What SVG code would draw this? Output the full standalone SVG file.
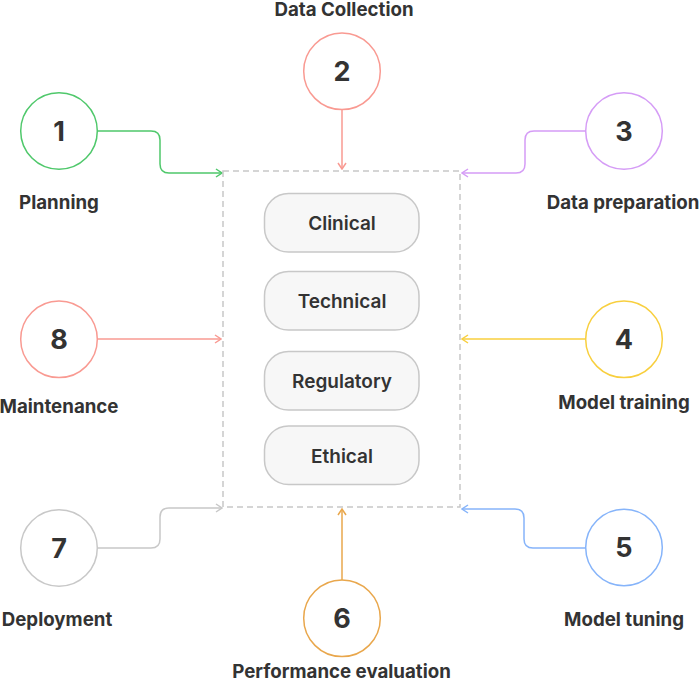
<svg xmlns="http://www.w3.org/2000/svg" width="700" height="681" viewBox="0 0 700 681">
<style>
.num{font-family:Inter,"Liberation Sans",sans-serif;font-weight:700;font-size:27px;fill:#333;text-anchor:middle}
.lbl{font-family:Inter,"Liberation Sans",sans-serif;font-weight:700;font-size:18.7px;fill:#333;text-anchor:middle}
.pt{font-family:Inter,"Liberation Sans",sans-serif;font-weight:600;font-size:19px;fill:#333;text-anchor:middle}
.pill{fill:#f7f7f7;stroke:#c8c8c8;stroke-width:1.5}
.c{fill:#fff;stroke-width:1.5}
.ln{fill:none;stroke-width:1.5}
</style>
<defs>
<marker id="aG" viewBox="0 0 10 10" refX="9" refY="5" markerWidth="10" markerHeight="10" markerUnits="userSpaceOnUse" orient="auto"><path d="M3 1 L9 5 L3 9" fill="none" stroke="#4fc86b" stroke-width="1.5"/></marker>
<marker id="aR" viewBox="0 0 10 10" refX="9" refY="5" markerWidth="10" markerHeight="10" markerUnits="userSpaceOnUse" orient="auto"><path d="M3 1 L9 5 L3 9" fill="none" stroke="#f99a92" stroke-width="1.5"/></marker>
<marker id="aP" viewBox="0 0 10 10" refX="9" refY="5" markerWidth="10" markerHeight="10" markerUnits="userSpaceOnUse" orient="auto"><path d="M3 1 L9 5 L3 9" fill="none" stroke="#d59cf6" stroke-width="1.5"/></marker>
<marker id="aY" viewBox="0 0 10 10" refX="9" refY="5" markerWidth="10" markerHeight="10" markerUnits="userSpaceOnUse" orient="auto"><path d="M3 1 L9 5 L3 9" fill="none" stroke="#f8cf3e" stroke-width="1.5"/></marker>
<marker id="aB" viewBox="0 0 10 10" refX="9" refY="5" markerWidth="10" markerHeight="10" markerUnits="userSpaceOnUse" orient="auto"><path d="M3 1 L9 5 L3 9" fill="none" stroke="#86b4fa" stroke-width="1.5"/></marker>
<marker id="aO" viewBox="0 0 10 10" refX="9" refY="5" markerWidth="10" markerHeight="10" markerUnits="userSpaceOnUse" orient="auto"><path d="M3 1 L9 5 L3 9" fill="none" stroke="#e9a74c" stroke-width="1.5"/></marker>
<marker id="aK" viewBox="0 0 10 10" refX="9" refY="5" markerWidth="10" markerHeight="10" markerUnits="userSpaceOnUse" orient="auto"><path d="M3 1 L9 5 L3 9" fill="none" stroke="#c8c8c8" stroke-width="1.5"/></marker>
</defs>
<rect width="700" height="681" fill="#fff"/>
<g id="connectors">
<path class="ln" stroke="#4fc86b" marker-end="url(#aG)" d="M98 131 H151 Q160 131 160 140 V164 Q160 173 169 173 H222"/>
<path class="ln" stroke="#f99a92" marker-end="url(#aR)" d="M342 110 V169"/>
<path class="ln" stroke="#d59cf6" marker-end="url(#aP)" d="M585 131 H534 Q525 131 525 140 V164 Q525 173 516 173 H462"/>
<path class="ln" stroke="#f8cf3e" marker-end="url(#aY)" d="M585 339 H462"/>
<path class="ln" stroke="#86b4fa" marker-end="url(#aB)" d="M585 548 H533 Q524 548 524 539 V518 Q524 509 515 509 H462"/>
<path class="ln" stroke="#e9a74c" marker-end="url(#aO)" d="M342 580 V509"/>
<path class="ln" stroke="#c8c8c8" marker-end="url(#aK)" d="M98 548 H151 Q160 548 160 539 V517 Q160 508 169 508 H222"/>
<path class="ln" stroke="#f99a92" marker-end="url(#aR)" d="M98 339 H221"/>
</g>
<g id="box">
<rect x="223" y="171" width="237" height="336" fill="none" stroke="#c8c8c8" stroke-width="1.5" stroke-dasharray="6 4"/>
</g>
<g id="clinical"><rect class="pill" x="264.5" y="193.5" width="154.5" height="58.5" rx="24"/><text class="pt" x="342" y="230">Clinical</text></g>
<g id="technical"><rect class="pill" x="264.5" y="271.5" width="154.5" height="58.5" rx="24"/><text class="pt" x="342" y="308">Technical</text></g>
<g id="regulatory"><rect class="pill" x="264.5" y="351.5" width="154.5" height="58.5" rx="24"/><text class="pt" x="342" y="388">Regulatory</text></g>
<g id="ethical"><rect class="pill" x="264.5" y="426" width="154.5" height="58.5" rx="24"/><text class="pt" x="342" y="462.5">Ethical</text></g>
<g id="n1"><circle class="c" stroke="#4fc86b" cx="59" cy="131" r="38.3"/><text class="num" x="59" y="140.5">1</text><text class="lbl" x="59" y="209">Planning</text></g>
<g id="n2"><circle class="c" stroke="#f99a92" cx="342" cy="71.3" r="38.3"/><text class="num" x="342" y="81">2</text><text class="lbl" x="344" y="16">Data Collection</text></g>
<g id="n3"><circle class="c" stroke="#d59cf6" cx="624" cy="131" r="38.3"/><text class="num" x="624" y="140.5">3</text><text class="lbl" x="623" y="209">Data preparation</text></g>
<g id="n4"><circle class="c" stroke="#f8cf3e" cx="624" cy="339.3" r="38.3"/><text class="num" x="624" y="349">4</text><text class="lbl" x="624" y="409">Model training</text></g>
<g id="n5"><circle class="c" stroke="#86b4fa" cx="624" cy="547.5" r="38.3"/><text class="num" x="624" y="557">5</text><text class="lbl" x="624" y="626">Model tuning</text></g>
<g id="n6"><circle class="c" stroke="#e9a74c" cx="342" cy="618.3" r="38.3"/><text class="num" x="342" y="628">6</text><text class="lbl" x="341.5" y="678">Performance evaluation</text></g>
<g id="n7"><circle class="c" stroke="#c8c8c8" cx="59" cy="548" r="38.3"/><text class="num" x="59" y="557.5">7</text><text class="lbl" x="57" y="626">Deployment</text></g>
<g id="n8"><circle class="c" stroke="#f99a92" cx="59" cy="339.3" r="38.3"/><text class="num" x="59" y="349">8</text><text class="lbl" x="59" y="413">Maintenance</text></g>
</svg>
